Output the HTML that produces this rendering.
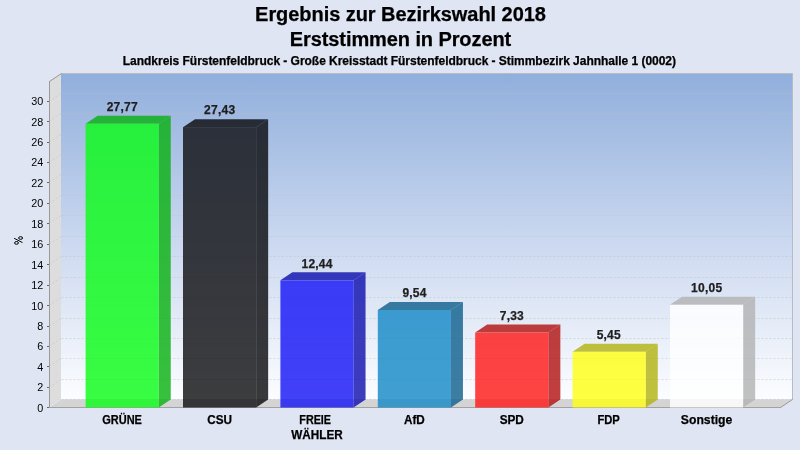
<!DOCTYPE html>
<html><head><meta charset="utf-8"><style>
html,body{margin:0;padding:0;background:#dfe5f3;}
body{width:800px;height:450px;overflow:hidden;font-family:"Liberation Sans",sans-serif;}
svg{display:block;will-change:transform;}
text{font-family:"Liberation Sans",sans-serif;}
.b{stroke:#000;stroke-width:0.25px;}
</style></head><body>
<svg width="800" height="450" viewBox="0 0 800 450">
<defs>
<linearGradient id="bw" x1="0" y1="0" x2="0" y2="1">
<stop offset="0" stop-color="#91afdc"/>
<stop offset="0.5" stop-color="#c9d7ef"/>
<stop offset="1" stop-color="#fcfdff"/>
</linearGradient>
</defs>
<rect x="0" y="0" width="800" height="450" fill="#dfe5f3"/>

<text x="400.5" y="20.7" text-anchor="middle" font-size="20" font-weight="bold" fill="#000" class="b" textLength="290.8" lengthAdjust="spacing">Ergebnis zur Bezirkswahl 2018</text>
<text x="400.5" y="45.5" text-anchor="middle" font-size="20" font-weight="bold" fill="#000" class="b" textLength="221.4" lengthAdjust="spacing">Erststimmen in Prozent</text>
<text x="399.4" y="65" text-anchor="middle" font-size="12" font-weight="bold" fill="#000" class="b" textLength="553.2" lengthAdjust="spacing">Landkreis Fürstenfeldbruck - Große Kreisstadt Fürstenfeldbruck - Stimmbezirk Jahnhalle 1 (0002)</text>
<rect x="61" y="74" width="731" height="325" fill="url(#bw)"/>
<polygon points="49,81 61,73 61,399 49,407" fill="#dddddd"/>
<polygon points="49,407.8 61,399.8 792,399.8 780,407.8" fill="#d4d4d4"/>
<line x1="61" y1="399.5" x2="792" y2="399.5" stroke="#c0c0c0" stroke-opacity="0.5" stroke-width="1" stroke-dasharray="2,2" stroke-dashoffset="3.5"/>
<line x1="61" y1="379.5" x2="792" y2="379.5" stroke="#c0c0c0" stroke-opacity="0.5" stroke-width="1" stroke-dasharray="2,2" stroke-dashoffset="3.5"/>
<line x1="49" y1="387.5" x2="61" y2="379.5" stroke="#c0c0c0" stroke-opacity="0.5" stroke-width="1" stroke-dasharray="2,2"/>
<line x1="61" y1="358.5" x2="792" y2="358.5" stroke="#c0c0c0" stroke-opacity="0.5" stroke-width="1" stroke-dasharray="2,2" stroke-dashoffset="3.5"/>
<line x1="49" y1="366.5" x2="61" y2="358.5" stroke="#c0c0c0" stroke-opacity="0.5" stroke-width="1" stroke-dasharray="2,2"/>
<line x1="61" y1="338.5" x2="792" y2="338.5" stroke="#c0c0c0" stroke-opacity="0.5" stroke-width="1" stroke-dasharray="2,2" stroke-dashoffset="3.5"/>
<line x1="49" y1="346.5" x2="61" y2="338.5" stroke="#c0c0c0" stroke-opacity="0.5" stroke-width="1" stroke-dasharray="2,2"/>
<line x1="61" y1="318.5" x2="792" y2="318.5" stroke="#c0c0c0" stroke-opacity="0.5" stroke-width="1" stroke-dasharray="2,2" stroke-dashoffset="3.5"/>
<line x1="49" y1="326.5" x2="61" y2="318.5" stroke="#c0c0c0" stroke-opacity="0.5" stroke-width="1" stroke-dasharray="2,2"/>
<line x1="61" y1="297.5" x2="792" y2="297.5" stroke="#c0c0c0" stroke-opacity="0.5" stroke-width="1" stroke-dasharray="2,2" stroke-dashoffset="3.5"/>
<line x1="49" y1="305.5" x2="61" y2="297.5" stroke="#c0c0c0" stroke-opacity="0.5" stroke-width="1" stroke-dasharray="2,2"/>
<line x1="61" y1="277.5" x2="792" y2="277.5" stroke="#c0c0c0" stroke-opacity="0.5" stroke-width="1" stroke-dasharray="2,2" stroke-dashoffset="3.5"/>
<line x1="49" y1="285.5" x2="61" y2="277.5" stroke="#c0c0c0" stroke-opacity="0.5" stroke-width="1" stroke-dasharray="2,2"/>
<line x1="61" y1="256.5" x2="792" y2="256.5" stroke="#c0c0c0" stroke-opacity="0.5" stroke-width="1" stroke-dasharray="2,2" stroke-dashoffset="3.5"/>
<line x1="49" y1="264.5" x2="61" y2="256.5" stroke="#c0c0c0" stroke-opacity="0.5" stroke-width="1" stroke-dasharray="2,2"/>
<line x1="61" y1="236.5" x2="792" y2="236.5" stroke="#c0c0c0" stroke-opacity="0.5" stroke-width="1" stroke-dasharray="2,2" stroke-dashoffset="3.5"/>
<line x1="49" y1="244.5" x2="61" y2="236.5" stroke="#c0c0c0" stroke-opacity="0.5" stroke-width="1" stroke-dasharray="2,2"/>
<line x1="61" y1="215.5" x2="792" y2="215.5" stroke="#c0c0c0" stroke-opacity="0.5" stroke-width="1" stroke-dasharray="2,2" stroke-dashoffset="3.5"/>
<line x1="49" y1="223.5" x2="61" y2="215.5" stroke="#c0c0c0" stroke-opacity="0.5" stroke-width="1" stroke-dasharray="2,2"/>
<line x1="61" y1="195.5" x2="792" y2="195.5" stroke="#c0c0c0" stroke-opacity="0.5" stroke-width="1" stroke-dasharray="2,2" stroke-dashoffset="3.5"/>
<line x1="49" y1="203.5" x2="61" y2="195.5" stroke="#c0c0c0" stroke-opacity="0.5" stroke-width="1" stroke-dasharray="2,2"/>
<line x1="61" y1="174.5" x2="792" y2="174.5" stroke="#c0c0c0" stroke-opacity="0.5" stroke-width="1" stroke-dasharray="2,2" stroke-dashoffset="3.5"/>
<line x1="49" y1="182.5" x2="61" y2="174.5" stroke="#c0c0c0" stroke-opacity="0.5" stroke-width="1" stroke-dasharray="2,2"/>
<line x1="61" y1="154.5" x2="792" y2="154.5" stroke="#c0c0c0" stroke-opacity="0.5" stroke-width="1" stroke-dasharray="2,2" stroke-dashoffset="3.5"/>
<line x1="49" y1="162.5" x2="61" y2="154.5" stroke="#c0c0c0" stroke-opacity="0.5" stroke-width="1" stroke-dasharray="2,2"/>
<line x1="61" y1="134.5" x2="792" y2="134.5" stroke="#c0c0c0" stroke-opacity="0.5" stroke-width="1" stroke-dasharray="2,2" stroke-dashoffset="3.5"/>
<line x1="49" y1="142.5" x2="61" y2="134.5" stroke="#c0c0c0" stroke-opacity="0.5" stroke-width="1" stroke-dasharray="2,2"/>
<line x1="61" y1="113.5" x2="792" y2="113.5" stroke="#c0c0c0" stroke-opacity="0.5" stroke-width="1" stroke-dasharray="2,2" stroke-dashoffset="3.5"/>
<line x1="49" y1="121.5" x2="61" y2="113.5" stroke="#c0c0c0" stroke-opacity="0.5" stroke-width="1" stroke-dasharray="2,2"/>
<line x1="61" y1="93.5" x2="792" y2="93.5" stroke="#c0c0c0" stroke-opacity="0.5" stroke-width="1" stroke-dasharray="2,2" stroke-dashoffset="3.5"/>
<line x1="49" y1="101.5" x2="61" y2="93.5" stroke="#c0c0c0" stroke-opacity="0.5" stroke-width="1" stroke-dasharray="2,2"/>
<line x1="49.5" y1="81" x2="49.5" y2="408" stroke="#9a9a9a" stroke-width="1" fill="none"/>
<line x1="49.5" y1="81.5" x2="61.5" y2="73.5" stroke="#9a9a9a" stroke-width="1" fill="none"/>
<polyline points="61,73.5 792.5,73.5 792.5,400" stroke="#808080" stroke-opacity="0.42" stroke-width="1" fill="none"/>
<line x1="49" y1="407.5" x2="781" y2="407.5" stroke="#a2a2a2" stroke-width="1"/>
<line x1="780.5" y1="407.5" x2="792.5" y2="399.5" stroke="#9a9a9a" stroke-width="1" fill="none"/>
<line x1="47" y1="407.5" x2="49" y2="407.5" stroke="#666" stroke-width="1"/>
<text x="43.3" y="412" text-anchor="end" font-size="10" fill="#000" textLength="6" lengthAdjust="spacingAndGlyphs">0</text>
<line x1="47" y1="387.5" x2="49" y2="387.5" stroke="#666" stroke-width="1"/>
<text x="43.3" y="391" text-anchor="end" font-size="10" fill="#000" textLength="6" lengthAdjust="spacingAndGlyphs">2</text>
<line x1="47" y1="366.5" x2="49" y2="366.5" stroke="#666" stroke-width="1"/>
<text x="43.3" y="371" text-anchor="end" font-size="10" fill="#000" textLength="6" lengthAdjust="spacingAndGlyphs">4</text>
<line x1="47" y1="346.5" x2="49" y2="346.5" stroke="#666" stroke-width="1"/>
<text x="43.3" y="350" text-anchor="end" font-size="10" fill="#000" textLength="6" lengthAdjust="spacingAndGlyphs">6</text>
<line x1="47" y1="326.5" x2="49" y2="326.5" stroke="#666" stroke-width="1"/>
<text x="43.3" y="330" text-anchor="end" font-size="10" fill="#000" textLength="6" lengthAdjust="spacingAndGlyphs">8</text>
<line x1="47" y1="305.5" x2="49" y2="305.5" stroke="#666" stroke-width="1"/>
<text x="43.3" y="310" text-anchor="end" font-size="10" fill="#000" textLength="12" lengthAdjust="spacingAndGlyphs">10</text>
<line x1="47" y1="285.5" x2="49" y2="285.5" stroke="#666" stroke-width="1"/>
<text x="43.3" y="289" text-anchor="end" font-size="10" fill="#000" textLength="12" lengthAdjust="spacingAndGlyphs">12</text>
<line x1="47" y1="264.5" x2="49" y2="264.5" stroke="#666" stroke-width="1"/>
<text x="43.3" y="269" text-anchor="end" font-size="10" fill="#000" textLength="12" lengthAdjust="spacingAndGlyphs">14</text>
<line x1="47" y1="244.5" x2="49" y2="244.5" stroke="#666" stroke-width="1"/>
<text x="43.3" y="248" text-anchor="end" font-size="10" fill="#000" textLength="12" lengthAdjust="spacingAndGlyphs">16</text>
<line x1="47" y1="223.5" x2="49" y2="223.5" stroke="#666" stroke-width="1"/>
<text x="43.3" y="228" text-anchor="end" font-size="10" fill="#000" textLength="12" lengthAdjust="spacingAndGlyphs">18</text>
<line x1="47" y1="203.5" x2="49" y2="203.5" stroke="#666" stroke-width="1"/>
<text x="43.3" y="207" text-anchor="end" font-size="10" fill="#000" textLength="12" lengthAdjust="spacingAndGlyphs">20</text>
<line x1="47" y1="182.5" x2="49" y2="182.5" stroke="#666" stroke-width="1"/>
<text x="43.3" y="187" text-anchor="end" font-size="10" fill="#000" textLength="12" lengthAdjust="spacingAndGlyphs">22</text>
<line x1="47" y1="162.5" x2="49" y2="162.5" stroke="#666" stroke-width="1"/>
<text x="43.3" y="166" text-anchor="end" font-size="10" fill="#000" textLength="12" lengthAdjust="spacingAndGlyphs">24</text>
<line x1="47" y1="142.5" x2="49" y2="142.5" stroke="#666" stroke-width="1"/>
<text x="43.3" y="146" text-anchor="end" font-size="10" fill="#000" textLength="12" lengthAdjust="spacingAndGlyphs">26</text>
<line x1="47" y1="121.5" x2="49" y2="121.5" stroke="#666" stroke-width="1"/>
<text x="43.3" y="126" text-anchor="end" font-size="10" fill="#000" textLength="12" lengthAdjust="spacingAndGlyphs">28</text>
<line x1="47" y1="101.5" x2="49" y2="101.5" stroke="#666" stroke-width="1"/>
<text x="43.3" y="105" text-anchor="end" font-size="10" fill="#000" textLength="12" lengthAdjust="spacingAndGlyphs">30</text>
<g fill="none" stroke="#000" stroke-width="1"><ellipse cx="20.6" cy="238.0" rx="1.95" ry="1.35"/><ellipse cx="16.5" cy="242.9" rx="1.95" ry="1.35"/><path d="M14.2,238.3 L22.5,242.6"/></g>
<g>
<polygon points="158.75,123.69 170.75,115.69 170.75,399.50 158.75,407.50" fill="#06b00e" fill-opacity="0.8"/>
<polygon points="85.60,123.69 97.60,115.69 170.75,115.69 158.75,123.69" fill="#06b00e" fill-opacity="0.8"/>
<rect x="85.60" y="123.69" width="73.15" height="283.81" fill="#08fc14" fill-opacity="0.8"/>
</g>
<text x="122.17" y="111" text-anchor="middle" font-size="12" font-weight="bold" fill="#1e1e1e" class="b" style="stroke:#1e1e1e" textLength="31" lengthAdjust="spacing">27,77</text>
<text x="122.08" y="424" text-anchor="middle" font-size="12" font-weight="bold" fill="#000" class="b" textLength="39.7" lengthAdjust="spacingAndGlyphs">GRÜNE</text>
<g>
<polygon points="256.15,127.17 268.15,119.17 268.15,399.50 256.15,407.50" fill="#08080a" fill-opacity="0.8"/>
<polygon points="183.00,127.17 195.00,119.17 268.15,119.17 256.15,127.17" fill="#08080a" fill-opacity="0.8"/>
<rect x="183.00" y="127.17" width="73.15" height="280.33" fill="#0c0c0f" fill-opacity="0.8"/>
</g>
<text x="219.57" y="114" text-anchor="middle" font-size="12" font-weight="bold" fill="#1e1e1e" class="b" style="stroke:#1e1e1e" textLength="31" lengthAdjust="spacing">27,43</text>
<text x="219.57" y="424" text-anchor="middle" font-size="12" font-weight="bold" fill="#000" class="b" textLength="24.8" lengthAdjust="spacingAndGlyphs">CSU</text>
<g>
<polygon points="353.55,280.36 365.55,272.36 365.55,399.50 353.55,407.50" fill="#0d0cac" fill-opacity="0.8"/>
<polygon points="280.40,280.36 292.40,272.36 365.55,272.36 353.55,280.36" fill="#0d0cac" fill-opacity="0.8"/>
<rect x="280.40" y="280.36" width="73.15" height="127.14" fill="#1311f6" fill-opacity="0.8"/>
</g>
<text x="316.97" y="268" text-anchor="middle" font-size="12" font-weight="bold" fill="#1e1e1e" class="b" style="stroke:#1e1e1e" textLength="31" lengthAdjust="spacing">12,44</text>
<text x="315.17" y="424" text-anchor="middle" font-size="12" font-weight="bold" fill="#000" class="b" textLength="31.7" lengthAdjust="spacingAndGlyphs">FREIE</text>
<text x="316.97" y="439" text-anchor="middle" font-size="12" font-weight="bold" fill="#000" class="b" textLength="51.45" lengthAdjust="spacingAndGlyphs">WÄHLER</text>
<g>
<polygon points="450.95,310.00 462.95,302.00 462.95,399.50 450.95,407.50" fill="#0c5e8b" fill-opacity="0.8"/>
<polygon points="377.80,310.00 389.80,302.00 462.95,302.00 450.95,310.00" fill="#0c5e8b" fill-opacity="0.8"/>
<rect x="377.80" y="310.00" width="73.15" height="97.50" fill="#1187c6" fill-opacity="0.8"/>
</g>
<text x="414.38" y="297" text-anchor="middle" font-size="12" font-weight="bold" fill="#1e1e1e" class="b" style="stroke:#1e1e1e" textLength="24" lengthAdjust="spacing">9,54</text>
<text x="414.38" y="424" text-anchor="middle" font-size="12" font-weight="bold" fill="#000" class="b" textLength="20.8" lengthAdjust="spacingAndGlyphs">AfD</text>
<g>
<polygon points="548.35,332.59 560.35,324.59 560.35,399.50 548.35,407.50" fill="#b20f0e" fill-opacity="0.8"/>
<polygon points="475.20,332.59 487.20,324.59 560.35,324.59 548.35,332.59" fill="#b20f0e" fill-opacity="0.8"/>
<rect x="475.20" y="332.59" width="73.15" height="74.91" fill="#ff1514" fill-opacity="0.8"/>
</g>
<text x="511.78" y="320" text-anchor="middle" font-size="12" font-weight="bold" fill="#1e1e1e" class="b" style="stroke:#1e1e1e" textLength="24" lengthAdjust="spacing">7,33</text>
<text x="511.78" y="424" text-anchor="middle" font-size="12" font-weight="bold" fill="#000" class="b" textLength="24.2" lengthAdjust="spacingAndGlyphs">SPD</text>
<g>
<polygon points="645.75,351.80 657.75,343.80 657.75,399.50 645.75,407.50" fill="#b2b20c" fill-opacity="0.8"/>
<polygon points="572.60,351.80 584.60,343.80 657.75,343.80 645.75,351.80" fill="#b2b20c" fill-opacity="0.8"/>
<rect x="572.60" y="351.80" width="73.15" height="55.70" fill="#ffff11" fill-opacity="0.8"/>
</g>
<text x="608.68" y="339" text-anchor="middle" font-size="12" font-weight="bold" fill="#1e1e1e" class="b" style="stroke:#1e1e1e" textLength="24" lengthAdjust="spacing">5,45</text>
<text x="608.58" y="424" text-anchor="middle" font-size="12" font-weight="bold" fill="#000" class="b" textLength="22.4" lengthAdjust="spacingAndGlyphs">FDP</text>
<g>
<polygon points="743.15,304.79 755.15,296.79 755.15,399.50 743.15,407.50" fill="#b2b2b2" fill-opacity="0.8"/>
<polygon points="670.00,304.79 682.00,296.79 755.15,296.79 743.15,304.79" fill="#b2b2b2" fill-opacity="0.8"/>
<rect x="670.00" y="304.79" width="73.15" height="102.71" fill="#ffffff" fill-opacity="0.8"/>
</g>
<text x="706.58" y="292" text-anchor="middle" font-size="12" font-weight="bold" fill="#1e1e1e" class="b" style="stroke:#1e1e1e" textLength="31" lengthAdjust="spacing">10,05</text>
<text x="706.58" y="424" text-anchor="middle" font-size="12" font-weight="bold" fill="#000" class="b" textLength="51.4" lengthAdjust="spacingAndGlyphs">Sonstige</text>
</svg></body></html>
